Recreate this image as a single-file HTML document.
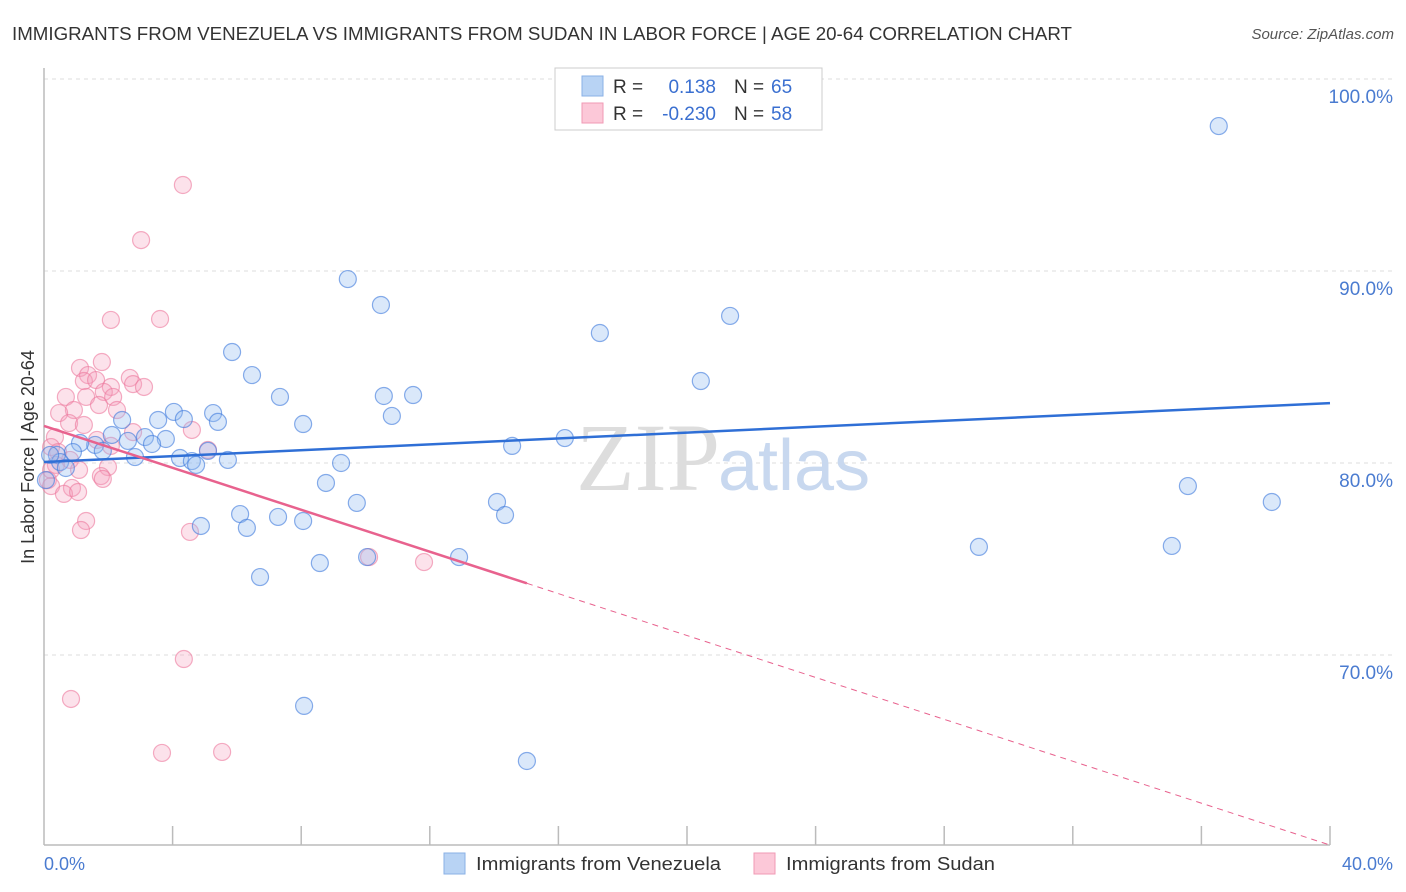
<!DOCTYPE html>
<html><head><meta charset="utf-8"><style>
body{margin:0;background:#fff;font-family:"Liberation Sans",sans-serif;}
svg{display:block}
</style></head><body>
<svg id="chart" width="1406" height="892" xmlns="http://www.w3.org/2000/svg">
<text x="12" y="40" font-size="18" fill="#333" textLength="1060" lengthAdjust="spacingAndGlyphs">IMMIGRANTS FROM VENEZUELA VS IMMIGRANTS FROM SUDAN IN LABOR FORCE | AGE 20-64 CORRELATION CHART</text>
<text x="1394" y="39" font-size="15" fill="#555" font-style="italic" text-anchor="end">Source: ZipAtlas.com</text>
<text x="34" y="457" font-size="18" fill="#333" text-anchor="middle" transform="rotate(-90 34 457)">In Labor Force | Age 20-64</text>
<g id="grid"></g>
<text x="720" y="490" font-size="96" font-family="Liberation Serif,serif" fill="#ddd" text-anchor="end">ZIP</text>
<text x="718" y="490" font-size="72" fill="#c8d8ef">atlas</text>
<line x1="44" y1="68" x2="44" y2="845" stroke="#bbb" stroke-width="1.5"/>
<line x1="44" y1="845" x2="1330" y2="845" stroke="#bbb" stroke-width="1.5"/>
<g id="ticks"></g>
<g id="pts"></g>
<g id="trends"></g>
<text x="44" y="870" font-size="18" fill="#4a7bd0">0.0%</text>
<text x="1393" y="870" font-size="18" fill="#4a7bd0" text-anchor="end">40.0%</text>
<g>
<rect x="555" y="68" width="267" height="62" fill="#fff" stroke="#ccc"/>
<rect x="582" y="76" width="21" height="20" fill="#b8d3f4" stroke="#8ab0e6"/>
<rect x="582" y="103" width="21" height="20" fill="#fcc8d8" stroke="#f09ab4"/>
<text x="613" y="93" font-size="19" fill="#333">R = </text>
<text x="716" y="93" font-size="19" fill="#3a6fd0" text-anchor="end">0.138</text>
<text x="734" y="93" font-size="19" fill="#333">N = </text>
<text x="771" y="93" font-size="19" fill="#3a6fd0">65</text>
<text x="613" y="120" font-size="19" fill="#333">R = </text>
<text x="716" y="120" font-size="19" fill="#3a6fd0" text-anchor="end">-0.230</text>
<text x="734" y="120" font-size="19" fill="#333">N = </text>
<text x="771" y="120" font-size="19" fill="#3a6fd0">58</text>
</g>
<g>
<rect x="444" y="853" width="21" height="21" fill="#b8d3f4" stroke="#8ab0e6"/>
<text x="476" y="870" font-size="18" fill="#333" textLength="245" lengthAdjust="spacingAndGlyphs">Immigrants from Venezuela</text>
<rect x="754" y="853" width="21" height="21" fill="#fcc8d8" stroke="#f09ab4"/>
<text x="786" y="870" font-size="18" fill="#333" textLength="209" lengthAdjust="spacingAndGlyphs">Immigrants from Sudan</text>
</g>
</svg>
<script>
const blueX=[36.54,9.45,10.48,17.29,21.34,5.85,6.47,20.43,7.34,10.57,11.48,10.82,8.06,4.04,3.55,4.35,5.26,5.41,2.43,2.11,3.14,3.79,3.36,2.61,1.59,1.12,1.83,0.90,0.40,0.50,0.68,2.83,4.23,4.60,4.73,5.72,5.10,9.24,14.56,16.20,8.77,9.73,14.09,14.34,6.10,7.28,8.06,6.31,4.88,8.58,6.72,10.05,12.91,29.08,35.08,35.58,38.19,8.09,15.02,21.99,0.19,0.06];
const blueY=[97.55,89.58,88.23,86.77,87.66,85.78,84.58,84.27,83.44,83.49,83.54,82.45,82.03,82.66,82.24,82.29,82.60,82.14,82.24,81.46,81.35,81.25,80.99,81.15,80.94,81.04,80.63,80.57,80.42,80.05,79.74,80.31,80.26,80.10,79.90,80.16,80.63,80.00,80.89,81.30,78.96,77.92,77.97,77.29,77.34,77.19,76.98,76.62,76.72,74.79,74.06,75.10,75.10,75.63,75.68,78.80,77.97,67.35,64.48,99.95,80.42,79.11];
const pinkX=[4.32,3.02,2.08,3.61,1.80,1.12,1.37,1.24,1.62,2.67,2.77,3.11,2.08,1.86,0.68,2.15,1.31,1.71,0.93,2.27,0.47,0.78,1.24,4.60,2.77,0.34,1.65,0.22,5.10,0.44,2.08,0.81,0.37,1.99,1.09,1.77,1.83,0.12,0.22,0.87,0.62,1.06,1.31,1.15,4.54,10.11,11.82,4.35,0.84,3.67,5.54,0.22];
const pinkY=[94.48,91.61,87.45,87.50,85.26,84.95,84.58,84.27,84.32,84.43,84.11,83.96,83.96,83.70,83.44,83.44,83.44,83.02,82.76,82.76,82.60,82.08,81.98,81.72,81.61,81.35,81.20,80.83,80.68,80.57,80.89,80.16,79.90,79.79,79.64,79.32,79.17,79.11,78.80,78.70,78.39,78.49,76.98,76.51,76.41,75.10,74.84,69.79,67.71,64.90,64.95,79.64];
const blueTrend=[80.05,83.12];
const pinkTrend=[81.93,60.1];
const pinkSolidEnd=15.02;
const yTicks=[100,90,80,70];
const yTickLabels=["100.0%","90.0%","80.0%","70.0%"];
const xTicks=[0,4,8,12,16,20,24,28,32,36,40];
const NS="http://www.w3.org/2000/svg";
const sx=v=>44+v*(1286/40);
const sy=v=>79+(100-v)*19.2;
function mk(tag,attrs,parent){const e=document.createElementNS(NS,tag);for(const k in attrs)e.setAttribute(k,attrs[k]);parent.appendChild(e);return e;}
const grid=document.getElementById('grid');
yTicks.forEach((t,i)=>{
  const l=mk('line',{x1:44,x2:1394,y1:sy(t),y2:sy(t),stroke:'#ddd','stroke-dasharray':'4,4'},grid);
  
  
  const tx=mk('text',{x:1393,y:sy(t)+24,'font-size':19,fill:'#4a7bd0','text-anchor':'end'},grid);
  tx.textContent=yTickLabels[i];
  
  
});
const ticks=document.getElementById('ticks');
xTicks.forEach(t=>{
  if(t===0)return;
  const l=mk('line',{x1:sx(t),x2:sx(t),y1:826,y2:845,stroke:'#bbb','stroke-width':1.5},ticks);
  
  
});
const pts=document.getElementById('pts');
pinkX.forEach((x,i)=>{
  const c=mk('circle',{cx:sx(x),cy:sy(pinkY[i]),r:8.5,fill:'rgba(246,160,188,0.3)',stroke:'rgba(236,120,156,0.6)','stroke-width':1.2},pts);
  
  
});
blueX.forEach((x,i)=>{
  const c=mk('circle',{cx:sx(x),cy:sy(blueY[i]),r:8.5,fill:'rgba(150,190,240,0.35)',stroke:'rgba(60,120,220,0.6)','stroke-width':1.2},pts);
  
  
});
const tr=document.getElementById('trends');
const bl=mk('line',{x1:sx(0),y1:sy(blueTrend[0]),x2:sx(40),y2:sy(blueTrend[1]),stroke:'#2f6fd6','stroke-width':2.5},tr);


const pAt=x=>pinkTrend[0]+(pinkTrend[1]-pinkTrend[0])*x/40;
const ps=mk('line',{x1:sx(0),y1:sy(pinkTrend[0]),x2:sx(pinkSolidEnd),y2:sy(pAt(pinkSolidEnd)),stroke:'#e8628e','stroke-width':2.5},tr);


const pd=mk('line',{x1:sx(pinkSolidEnd),y1:sy(pAt(pinkSolidEnd)),x2:sx(40),y2:sy(pinkTrend[1]),stroke:'#e8628e','stroke-width':1,'stroke-dasharray':'6,5'},tr);


</script>
</body></html>
